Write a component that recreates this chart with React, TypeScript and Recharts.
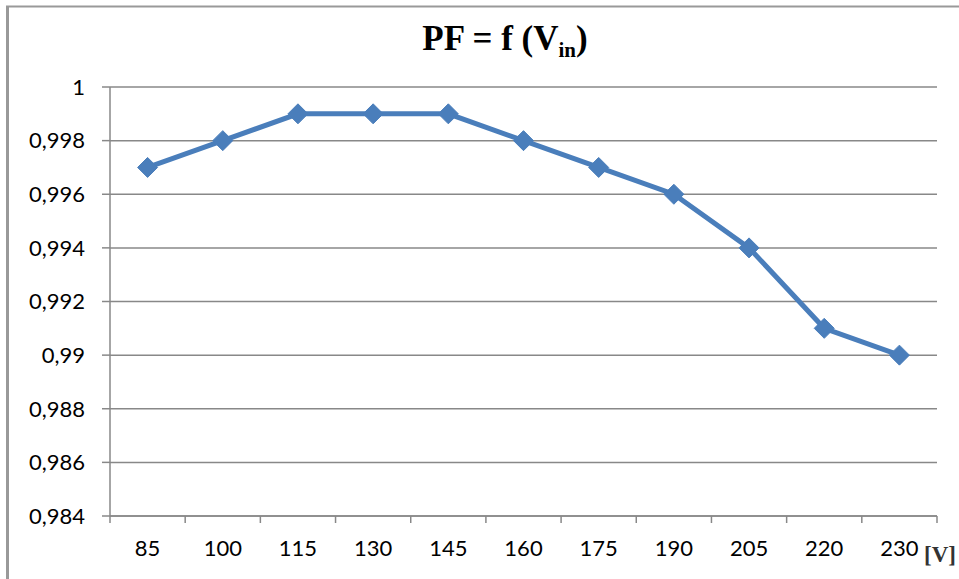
import { CartesianGrid, Line, LineChart, XAxis, YAxis } from "recharts";

const voltages = ["85", "100", "115", "130", "145", "160", "175", "190", "205", "220", "230"];
const powerFactor = [0.997, 0.998, 0.999, 0.999, 0.999, 0.998, 0.997, 0.996, 0.994, 0.991, 0.99];
const yTicks = [0.984, 0.986, 0.988, 0.99, 0.992, 0.994, 0.996, 0.998, 1];

const data = voltages.map((v, i) => ({ x: i + 0.5, label: v, pf: powerFactor[i] }));
const xTicks = Array.from({ length: voltages.length * 2 + 1 }, (_, i) => i / 2);

const AXIS = "#888888";
const BLUE = "#4a7ebb";

const fmtY = (v: number) => String(Number(v.toFixed(3))).replace(".", ",");

function XTick(props: any) {
  const { x, y, payload } = props;
  const v = payload.value as number;
  if (Number.isInteger(v)) {
    return <line x1={x} x2={x} y1={y} y2={y + 7} stroke={AXIS} strokeWidth={1.5} />;
  }
  return (
    <text x={x} y={y + 40} textAnchor="middle" fontFamily="Lato" fontSize={22} fill="#000">
      {voltages[Math.floor(v)]}
    </text>
  );
}

function Diamond(props: any) {
  const { cx, cy, index } = props;
  const r = 10;
  return (
    <path
      key={index}
      d={`M${cx},${cy - r}L${cx + r},${cy}L${cx},${cy + r}L${cx - r},${cy}Z`}
      fill={BLUE}
      stroke={BLUE}
    />
  );
}

export default function App() {
  return (
    <div style={{ position: "absolute", left: 0, top: 0, width: 959, height: 579, background: "#fff" }}>
      <LineChart width={959} height={579} data={data} margin={{ top: 87, right: 22, bottom: 23, left: 0 }}>
        <CartesianGrid vertical={false} stroke={AXIS} strokeWidth={1.5} />
        <XAxis
          dataKey="x"
          type="number"
          domain={[0, 11]}
          ticks={xTicks}
          interval={0}
          height={40}
          tickLine={false}
          tickSize={0}
          tickMargin={0}
          tick={<XTick />}
          axisLine={{ stroke: AXIS, strokeWidth: 1.5 }}
        />
        <YAxis
          domain={[0.984, 1]}
          ticks={yTicks}
          interval={0}
          width={110}
          tickSize={8}
          tickMargin={17}
          tickFormatter={fmtY}
          tick={{ fontFamily: "Lato", fontSize: 22, fill: "#000" }}
          tickLine={{ stroke: AXIS, strokeWidth: 1.5 }}
          axisLine={{ stroke: AXIS, strokeWidth: 1.5 }}
        />
        <Line
          dataKey="pf"
          stroke={BLUE}
          strokeWidth={5}
          dot={<Diamond />}
          activeDot={false}
          isAnimationActive={false}
        />
      </LineChart>
      <svg
        width={959}
        height={579}
        style={{ position: "absolute", left: 0, top: 0, pointerEvents: "none", zIndex: 5 }}
      >
        <rect x={6} y={6} width={3} height={573} fill="#999999" />
        <rect x={6} y={5.5} width={953} height={2} fill="#999999" />
        <text
          x={505}
          y={50}
          textAnchor="middle"
          fontFamily="Liberation Serif"
          fontWeight="bold"
          fontSize={35}
          fill="#000"
        >
          PF = f (V
          <tspan fontSize={21} dy={7}>in</tspan>
          <tspan dy={-7}>)</tspan>
        </text>
        <text x={924} y={562} fontFamily="Liberation Serif" fontWeight="bold" fontSize={23} fill="#333">
          [V]
        </text>
      </svg>
    </div>
  );
}
